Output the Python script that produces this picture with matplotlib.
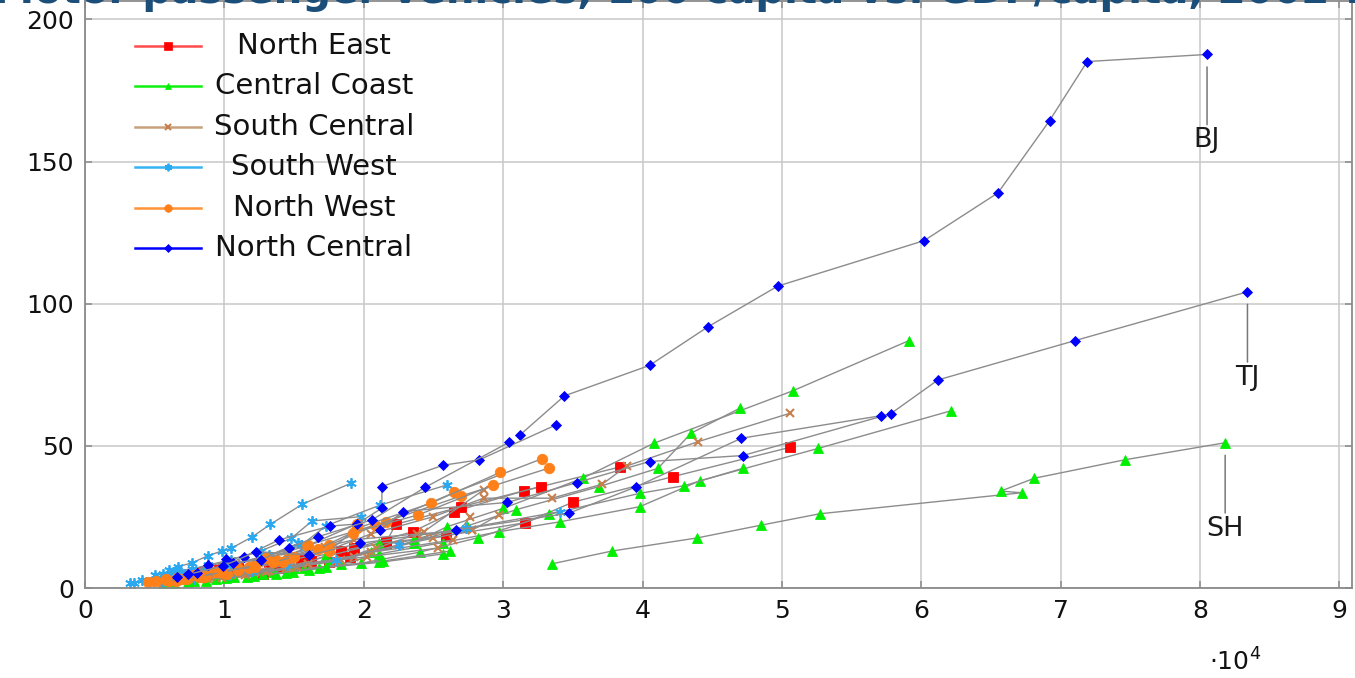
import matplotlib
matplotlib.use("Agg")
import matplotlib.pyplot as plt
from matplotlib.lines import Line2D
from matplotlib.ticker import FuncFormatter, MultipleLocator

plt.rcParams["font.family"] = ["DejaVu Sans"]

W, H, DPI = 1355, 678, 100
YEARS = list(range(2002, 2012))

# GDP per capita (yuan) and motor passenger vehicles per 1000 capita, 2002-2011
# North East
LN_GDP = [13800, 15700, 17500, 19000, 21600, 25900, 31600, 35000, 42200, 50600]
LN_VEH = [7.5, 8.6, 9.0, 11.0, 15.5, 18.4, 23.0, 30.2, 39.2, 49.5]
JL_GDP = [8400, 9600, 10800, 13200, 15500, 19300, 23500, 26500, 31500, 38400]
JL_VEH = [5.5, 6.5, 7.5, 9.0, 10.0, 14.0, 19.8, 26.9, 34.2, 42.6]
HL_GDP = [9700, 11000, 12800, 14200, 16200, 18400, 21600, 22300, 27000, 32700]
HL_VEH = [6.0, 7.0, 5.0, 7.0, 9.5, 13.1, 16.1, 22.4, 28.6, 35.7]

# Central Coast
SH_GDP = [33500, 37800, 43900, 48500, 52700, 67200, 65700, 68100, 74600, 81800]
SH_VEH = [8.5, 13.0, 17.6, 22.1, 26.1, 33.5, 34.1, 38.6, 45.1, 51.1]
JS_GDP = [16100, 18400, 21100, 25700, 29700, 34100, 39800, 44100, 52600, 62100]
JS_VEH = [6.3, 8.3, 12.0, 16.0, 19.8, 23.3, 28.6, 37.7, 49.1, 62.3]
ZJ_GDP = [15000, 17500, 20500, 23600, 26000, 30000, 35700, 40800, 50800, 59100]
ZJ_VEH = [7.0, 9.5, 12.5, 16.0, 21.6, 28.0, 38.6, 50.9, 69.4, 87.0]
FJ_GDP = [13500, 17200, 21100, 23600, 27400, 30900, 36900, 41100, 43500, 47000]
FJ_VEH = [5.5, 11.0, 15.7, 17.1, 21.8, 27.5, 35.7, 42.1, 54.5, 63.3]
SD_GDP = [11600, 13700, 15700, 19800, 24000, 28200, 33300, 39800, 43000, 47200]
SD_VEH = [4.0, 5.0, 6.9, 8.7, 12.6, 17.7, 25.9, 33.3, 36.0, 42.1]
AH_GDP = [5500, 6200, 7400, 8700, 10100, 12100, 14400, 16800, 21100, 25700]
AH_VEH = [1.2, 1.6, 2.0, 2.6, 3.4, 4.3, 5.4, 7.0, 9.0, 12.0]
JX_GDP = [5600, 6400, 7800, 9400, 10700, 12800, 14900, 17300, 21400, 26200]
JX_VEH = [1.5, 1.9, 2.4, 3.0, 3.8, 4.8, 5.8, 7.5, 9.5, 13.0]

# South Central
GD_GDP = [15000, 17500, 20500, 25000, 28600, 33500, 37100, 38900, 44000, 50600]
GD_VEH = [11.5, 13.4, 19.0, 25.1, 31.6, 31.6, 36.5, 43.0, 51.5, 61.5]
HEN_GDP = [6400, 7400, 9000, 11200, 13200, 16000, 19300, 20900, 24300, 28600]
HEN_VEH = [2.5, 3.0, 3.8, 4.8, 6.0, 8.5, 11.0, 14.0, 19.8, 34.5]
HUB_GDP = [8800, 9800, 11500, 13000, 15200, 18400, 22500, 25000, 27800, 29700]
HUB_VEH = [3.0, 3.5, 4.5, 5.5, 7.5, 10.0, 15.1, 17.5, 20.4, 25.7]
HUN_GDP = [6600, 7500, 9000, 10500, 12200, 14700, 18000, 20500, 26400, 27600]
HUN_VEH = [2.5, 3.0, 3.8, 4.5, 5.5, 7.0, 9.5, 12.5, 16.9, 24.9]
GX_GDP = [5200, 5800, 7000, 8400, 10000, 12200, 14400, 16000, 20200, 25300]
GX_VEH = [1.8, 2.2, 2.8, 3.5, 4.5, 5.8, 7.0, 8.5, 11.0, 14.0]
HI_GDP = [8000, 8800, 9800, 10800, 12500, 14500, 17200, 19300, 23800, 27800]
HI_VEH = [5.5, 6.5, 7.5, 8.5, 10.5, 12.0, 14.5, 17.0, 19.0, 20.4]

# South West
XZ_GDP = [6000, 6700, 7700, 8800, 9800, 10500, 12000, 13300, 15600, 19100]
XZ_VEH = [6.3, 7.5, 8.9, 11.3, 13.0, 14.0, 18.0, 22.4, 29.5, 36.9]
CQ_GDP = [5600, 6500, 7800, 10300, 12000, 14500, 18000, 22500, 27300, 34100]
CQ_VEH = [2.0, 2.5, 3.3, 4.5, 6.0, 8.0, 10.0, 15.1, 21.0, 26.9]
SC_GDP = [5500, 6200, 7400, 9000, 10500, 12600, 15500, 17300, 21200, 26000]
SC_VEH = [3.0, 3.5, 4.5, 6.0, 8.0, 10.5, 15.0, 21.9, 29.2, 36.3]
YN_GDP = [5000, 5600, 6400, 7700, 8800, 10500, 12600, 14800, 16300, 19800]
YN_VEH = [4.5, 5.0, 5.8, 6.8, 8.0, 10.0, 13.0, 17.5, 23.6, 25.1]
GZ_GDP = [3200, 3500, 4100, 5200, 6000, 6900, 8600, 10100, 13200, 15300]
GZ_VEH = [1.7, 1.9, 2.8, 3.5, 4.5, 5.5, 6.5, 8.0, 11.5, 15.7]

# North West
SN_GDP = [6000, 6800, 8300, 9800, 11800, 14600, 15900, 21600, 26500, 32800]
SN_VEH = [2.5, 3.0, 4.0, 5.5, 7.5, 10.5, 14.9, 23.3, 33.6, 45.5]
NX_GDP = [5800, 6600, 7800, 9200, 11000, 13700, 17500, 20800, 27000, 33300]
NX_VEH = [3.0, 3.5, 4.5, 5.5, 7.0, 10.0, 15.0, 22.0, 32.4, 42.2]
QH_GDP = [6500, 7300, 8600, 10200, 11800, 14200, 17500, 19500, 24800, 29800]
QH_VEH = [2.5, 3.0, 4.0, 5.0, 7.0, 9.0, 13.0, 21.0, 29.8, 40.7]
XJ_GDP = [8500, 9500, 11000, 12200, 13500, 15000, 16700, 19200, 23900, 29300]
XJ_VEH = [4.5, 5.5, 6.5, 7.5, 9.0, 11.0, 13.7, 19.5, 25.7, 36.2]
GS_GDP = [4500, 5100, 5800, 7000, 8200, 9800, 12200, 13000, 16000, 19500]
GS_VEH = [2.0, 2.3, 2.7, 3.2, 4.0, 5.5, 8.0, 10.5, 15.0, 22.5]

# North Central
BJ_GDP = [31200, 34400, 40500, 44700, 49700, 60200, 65500, 69200, 71900, 80500]
BJ_VEH = [53.8, 67.6, 78.3, 91.9, 106.2, 122.2, 139.0, 164.4, 185.2, 187.7]
TJ_GDP = [21200, 22800, 30300, 35300, 40500, 47200, 57800, 61200, 71000, 83400]
TJ_VEH = [20.4, 26.9, 30.1, 37.1, 44.5, 46.6, 61.3, 73.2, 87.0, 104.2]
HEB_GDP = [10100, 11400, 13900, 17600, 19500, 21300, 21300, 25700, 28300, 33800]
HEB_VEH = [10.1, 11.0, 16.9, 21.8, 22.5, 28.1, 35.7, 43.2, 45.1, 57.4]
SX_GDP = [6600, 8000, 8800, 10600, 12600, 14600, 16700, 20600, 24400, 30400]
SX_VEH = [4.0, 5.4, 8.1, 8.9, 9.9, 14.2, 18.0, 24.0, 35.4, 51.2]
IM_GDP = [7400, 9900, 12300, 16100, 19700, 26600, 34700, 39500, 47100, 57100]
IM_VEH = [4.8, 7.7, 12.8, 11.6, 15.7, 20.4, 26.3, 35.5, 52.7, 60.6]

REGION_NAMES = ["North East", "Central Coast", "South Central",
                "South West", "North West", "North Central"]
REGION_PROVINCES = [
    [(LN_GDP, LN_VEH), (JL_GDP, JL_VEH), (HL_GDP, HL_VEH)],
    [(SH_GDP, SH_VEH), (JS_GDP, JS_VEH), (ZJ_GDP, ZJ_VEH), (FJ_GDP, FJ_VEH),
     (SD_GDP, SD_VEH), (AH_GDP, AH_VEH), (JX_GDP, JX_VEH)],
    [(GD_GDP, GD_VEH), (HEN_GDP, HEN_VEH), (HUB_GDP, HUB_VEH),
     (HUN_GDP, HUN_VEH), (GX_GDP, GX_VEH), (HI_GDP, HI_VEH)],
    [(XZ_GDP, XZ_VEH), (CQ_GDP, CQ_VEH), (SC_GDP, SC_VEH),
     (YN_GDP, YN_VEH), (GZ_GDP, GZ_VEH)],
    [(SN_GDP, SN_VEH), (NX_GDP, NX_VEH), (QH_GDP, QH_VEH),
     (XJ_GDP, XJ_VEH), (GS_GDP, GS_VEH)],
    [(BJ_GDP, BJ_VEH), (TJ_GDP, TJ_VEH), (HEB_GDP, HEB_VEH),
     (SX_GDP, SX_VEH), (IM_GDP, IM_VEH)],
]
LABELED = [("BJ", BJ_GDP, BJ_VEH), ("TJ", TJ_GDP, TJ_VEH), ("SH", SH_GDP, SH_VEH)]

# marker style per region
STYLES = [
    dict(marker="s", color="#ff0000", line="#ff4a4a", ms=7.5, lms=5.5, mew=0.0),
    dict(marker="^", color="#00f000", line="#10f010", ms=6.5, lms=5.0, mew=0.0),
    dict(marker="x", color="#c8804c", line="#c8a07c", ms=5.5, lms=4.0, mew=1.5),
    dict(marker=(6, 2, 0), color="#2aa8f0", line="#36b4f4", ms=7.5, lms=5.5, mew=1.3),
    dict(marker="o", color="#ff8018", line="#ff9438", ms=7.5, lms=5.5, mew=0.0),
    dict(marker="D", color="#0000ff", line="#0000ff", ms=5.5, lms=4.5, mew=0.0),
]

GRID = "#c8c8c8"
AXIS = "#8a8a8a"
LINK = "#8c8c8c"

fig = plt.figure(figsize=(W / DPI, H / DPI), dpi=DPI)
ax = fig.add_axes([85 / W, 1 - 588 / H, (1352 - 85) / W, (588 - 1) / H])

for style, provinces in zip(STYLES, REGION_PROVINCES):
    for gdp, veh in provinces:
        filled = style["mew"] == 0.0
        ax.plot(gdp, veh, color=LINK, lw=1.0, zorder=2,
                marker=style["marker"], ms=style["ms"],
                markerfacecolor=style["color"],
                markeredgecolor=style["color"],
                markeredgewidth=0.6 if filled else style["mew"])

for name, gdp, veh in LABELED:
    ax.annotate(name, xy=(gdp[-1], veh[-1]), xytext=(0, -86),
                textcoords="offset pixels", ha="center", va="center",
                fontsize=19.5, color="#1a1a1a", zorder=5,
                arrowprops=dict(arrowstyle="-", color="#777777", lw=1.1,
                                shrinkA=0, shrinkB=9))

ax.set_xlim(0, 90900)
ax.set_ylim(0, 206.5)
ax.xaxis.set_major_locator(MultipleLocator(10000))
ax.yaxis.set_major_locator(MultipleLocator(50))
ax.xaxis.set_major_formatter(FuncFormatter(lambda v, p: f"{v / 1e4:.0f}"))
ax.grid(True, color=GRID, lw=1.1, zorder=0)
ax.set_axisbelow(True)
for sp in ax.spines.values():
    sp.set_color(AXIS)
    sp.set_linewidth(1.3)
ax.tick_params(direction="in", length=5, width=1.1, color=AXIS,
               labelsize=18, labelcolor="#111111", top=True, right=True,
               pad=8)

fig.text(1235 / W, 1 - 662 / H, r"$\cdot10^{4}$", ha="center", va="center",
         fontsize=18, color="#111111")

# legend: coloured sample line with marker, centred label text
for i, (name, style) in enumerate(zip(REGION_NAMES, STYLES)):
    yc = 1 - (46 + i * 40.4) / H
    fig.add_artist(Line2D([135 / W, 201 / W], [yc, yc], color=style["line"], lw=1.8))
    fig.add_artist(Line2D([168 / W], [yc], marker=style["marker"], ms=style["lms"],
                          markerfacecolor=style["color"], markeredgecolor=style["color"],
                          markeredgewidth=style["mew"] if style["mew"] else 0.5))
    fig.text(314 / W, yc, name, ha="center", va="center", fontsize=21,
             color="#111111")

fig.text(-6 / W, 1 - 3 / H,
         "Motor passenger vehicles, 100 capita vs. GDP/capita, 2002-2011",
         ha="left", va="baseline", fontsize=29, fontweight="bold",
         color="#1b4f7a")

fig.savefig("out.png", dpi=DPI)
